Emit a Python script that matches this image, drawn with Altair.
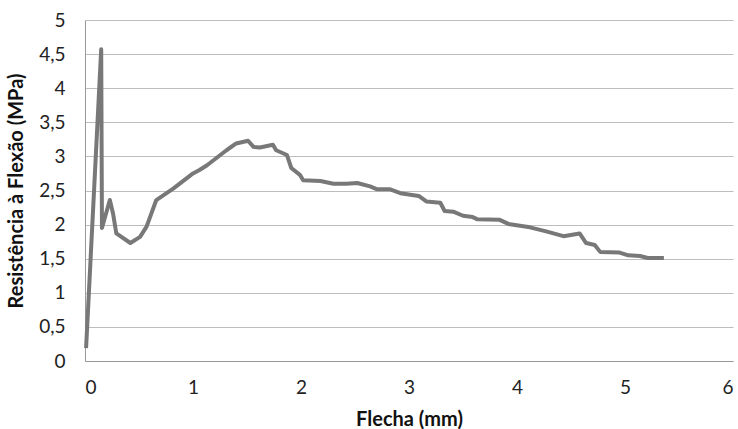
import altair as alt
import pandas as pd

flecha = [0.01, 0.15, 0.157, 0.23, 0.26, 0.29, 0.42, 0.51, 0.57, 0.66, 0.82, 1.00, 1.06, 1.13,
          1.31, 1.40, 1.51, 1.56, 1.62, 1.74, 1.77, 1.87, 1.91, 1.99, 2.02, 2.18, 2.30, 2.42,
          2.52, 2.64, 2.70, 2.82, 2.92, 3.09, 3.16, 3.29, 3.33, 3.41, 3.50, 3.59, 3.63, 3.84,
          3.92, 4.12, 4.27, 4.43, 4.58, 4.64, 4.72, 4.77, 4.95, 5.03, 5.14, 5.21, 5.36]
resistencia = [0.19, 4.57, 1.95, 2.36, 2.16, 1.87, 1.73, 1.82, 1.97, 2.36, 2.53, 2.75, 2.80, 2.87,
               3.09, 3.19, 3.23, 3.14, 3.13, 3.17, 3.09, 3.02, 2.83, 2.73, 2.65, 2.64, 2.60, 2.60,
               2.61, 2.56, 2.52, 2.52, 2.46, 2.42, 2.34, 2.32, 2.20, 2.19, 2.13, 2.11, 2.08, 2.07,
               2.01, 1.96, 1.90, 1.83, 1.87, 1.73, 1.70, 1.60, 1.59, 1.55, 1.54, 1.51, 1.51]

df = pd.DataFrame({"x": flecha, "y": resistencia, "i": list(range(len(flecha)))})

FONT = "Lato"

chart = alt.Chart(df).mark_line(color="#787878", strokeWidth=4, strokeJoin="round").encode(
    x=alt.X("x:Q", scale=alt.Scale(domain=[0, 6], nice=False),
            axis=alt.Axis(title="Flecha (mm)", values=[0, 1, 2, 3, 4, 5, 6], grid=False,
                          ticks=False, domainColor="#999999", labelPadding=17,
                          titlePadding=12, labelFontSize=19, titleFontSize=20,
                          labelColor="#222222", titleColor="#111111")),
    y=alt.Y("y:Q", scale=alt.Scale(domain=[0, 5], nice=False),
            axis=alt.Axis(title="Resistência à Flexão (MPa)",
                          values=[0, 0.5, 1, 1.5, 2, 2.5, 3, 3.5, 4, 4.5, 5],
                          labelExpr="replace(toString(datum.value), '.', ',')",
                          grid=True, gridColor="#bdbdbd", ticks=False,
                          domainColor="#999999", labelPadding=20, titlePadding=12,
                          labelFontSize=19, titleFontSize=20,
                          labelColor="#222222", titleColor="#111111")),
    order="i:Q",
).properties(
    width=648, height=341,
    autosize=alt.AutoSizeParams(type="none"),
    padding={"left": 85, "top": 20, "right": 5, "bottom": 68},
).configure_axis(
    labelFont=FONT, titleFont=FONT, titleFontWeight="bold"
).configure_view(stroke=None)

chart.save("out.html", embed_options={"renderer": "svg", "actions": False})
